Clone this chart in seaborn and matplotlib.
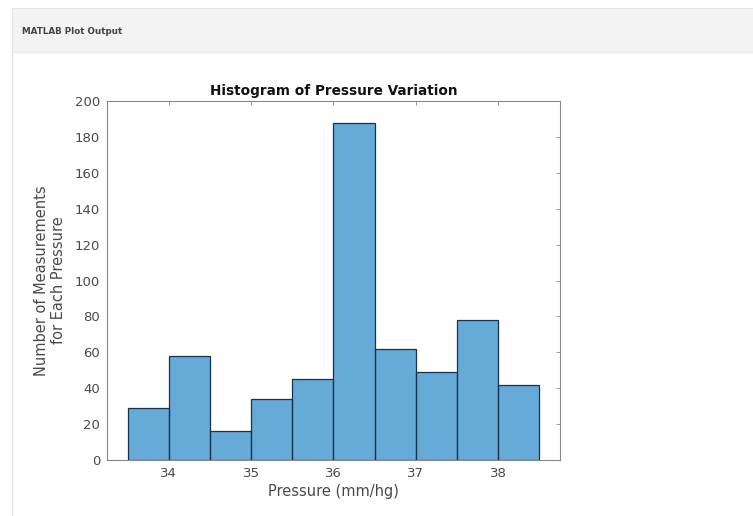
import numpy as np
import pandas as pd
import seaborn as sns
import matplotlib.pyplot as plt
from matplotlib.patches import Rectangle

# histogram values
bin_edges = [33.5, 34.0, 34.5, 35.0, 35.5, 36.0, 36.5, 37.0, 37.5, 38.0, 38.5]
counts = [29, 58, 16, 34, 45, 188, 62, 49, 78, 42]
x_ticks = [34, 35, 36, 37, 38]
y_ticks = [0, 20, 40, 60, 80, 100, 120, 140, 160, 180, 200]

centers = [(a + b) / 2 for a, b in zip(bin_edges[:-1], bin_edges[1:])]
df = pd.DataFrame({"Pressure": centers, "Count": counts})

sns.set_style("white")
plt.rcParams["font.family"] = ["DejaVu Sans"]

fig = plt.figure(figsize=(7.53, 5.16), dpi=100)
fig.patch.set_facecolor("white")

# page decoration: panel header and left border
fig.patches.append(Rectangle((12 / 753, 1 - 52 / 516), 1, 44 / 516, transform=fig.transFigure,
                             facecolor="#f3f3f3", edgecolor="#e6e6e6", linewidth=0.8))
fig.lines.append(plt.Line2D([12 / 753, 12 / 753], [0, 1 - 52 / 516], transform=fig.transFigure,
                            color="#e3e3e3", linewidth=1))
fig.text(22 / 753, 1 - 31 / 516, "MATLAB Plot Output", fontsize=6.3, color="#444444",
         fontweight="bold", va="center", ha="left")

ax = fig.add_axes([107 / 753, 1 - 460 / 516, 453 / 753, 359 / 516])
sns.histplot(data=df, x="Pressure", weights="Count", bins=bin_edges, ax=ax,
             color="#0072BD", alpha=0.6, edgecolor="#17324d", linewidth=0.9)

ax.set_xlim(33.25, 38.75)
ax.set_ylim(0, 200)
ax.set_xticks(x_ticks)
ax.set_yticks(y_ticks)
ax.tick_params(direction="in", length=3, width=0.6, colors="#888888", labelcolor="#4a4a4a",
               labelsize=9.5, top=True, right=True, pad=5)
for s in ax.spines.values():
    s.set_visible(True)
    s.set_color("#888888")
    s.set_linewidth(0.8)

ax.set_title("Histogram of Pressure Variation", fontsize=9.8, fontweight="bold", color="#111111", pad=4)
ax.set_xlabel("Pressure (mm/hg)", fontsize=10.5, color="#4a4a4a", labelpad=3)
ax.set_ylabel("Number of Measurements\nfor Each Pressure", fontsize=10.5, color="#4a4a4a", labelpad=6)

fig.savefig("out.png", dpi=100)
